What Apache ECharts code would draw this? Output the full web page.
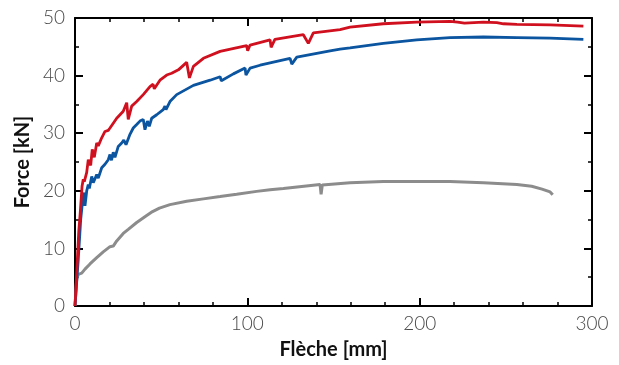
<!DOCTYPE html>
<html>
<head>
<meta charset="utf-8">
<script src="https://cdn.jsdelivr.net/npm/echarts@6/dist/echarts.min.js"></script>
<style>
  html, body { margin: 0; padding: 0; background: #fff; }
  #chart { width: 619px; height: 365px; }
</style>
</head>
<body>
<div id="chart"></div>
<script>
// Flèche [mm] / Force [kN] readings for each test
const redX = [0, 1.2, 2.2, 3, 4.1, 4.8, 5.4, 6.8, 7.7, 8.4, 9.1, 10, 10.6, 11.2, 12.6, 13.5, 15.5, 16.3, 17.4, 19.3, 20.3, 21.2, 24.2, 28, 30, 30.9, 32.9, 35.8, 39.6, 43.5, 45.3, 46, 49.3, 53.2, 56.1, 57, 60, 64.8, 66.4, 68.7, 74.5, 84.2, 99.6, 100.2, 101.6, 113.2, 113.8, 116, 132.5, 135.4, 138.3, 153.8, 159.6, 178.9, 198.3, 217.6, 222, 226, 237, 244.8, 248.6, 256.4, 275.7, 295];
const redY = [0, 7, 13, 16, 20.8, 22, 21.6, 23.2, 25.4, 25.6, 24.4, 27.2, 27.4, 25.8, 28.3, 27.8, 29.2, 28.9, 30.3, 30.5, 30.9, 31.2, 32.6, 33.8, 35.3, 32.4, 34.7, 35.5, 36.7, 38.1, 38.5, 37.7, 39.2, 40.1, 40.4, 40.2, 41, 42.3, 39.6, 41.6, 43, 44.2, 45.2, 44.3, 45.3, 46.2, 44.9, 46.3, 47.1, 45.6, 47.4, 48.0, 48.4, 49.0, 49.3, 49.4, 49.3, 49.1, 49.3, 49.2, 49.0, 48.9, 48.8, 48.6];

const blueX = [0, 1.9, 3.3, 4.5, 5.2, 5.8, 6.8, 7.7, 8.3, 9.7, 10.6, 12.6, 13.5, 15.5, 17.4, 19.3, 20.3, 21.2, 22.2, 23.2, 25.1, 27.1, 28.3, 29.6, 31.9, 33.8, 35.8, 37.7, 39.6, 40.6, 42, 43.1, 44.5, 47.4, 51.2, 52.2, 52.8, 55.1, 59, 68.7, 78.4, 84.2, 84.9, 91.9, 98.7, 99.2, 101.6, 107.4, 124.8, 125.8, 128.7, 148, 149, 153.8, 159.6, 178.9, 198.3, 217.6, 237, 256.4, 275.7, 295];
const blueY = [0, 8.1, 15, 18.5, 19.7, 17.4, 20, 21.1, 20.4, 22.5, 21.4, 22.8, 22.2, 24, 24.6, 25.4, 26.3, 25.3, 26.7, 25.8, 27.7, 28.3, 28.8, 28, 29.8, 30.9, 31.5, 32.1, 32.4, 30.6, 32.1, 31.2, 32.6, 33.2, 34.1, 34.7, 34.1, 35.5, 36.7, 38.3, 39.2, 39.8, 39.1, 40.3, 41.3, 40.1, 41.3, 41.8, 43, 42, 43.2, 44.3, 44.0, 44.6, 44.8, 45.6, 46.2, 46.6, 46.7, 46.6, 46.5, 46.3];

const grayX = [0, 1, 1.9, 3.9, 5.8, 8.7, 12.6, 16.4, 20.3, 22.2, 24.2, 28, 30.9, 35.8, 41.6, 45, 49, 55.1, 64.8, 74.5, 84.2, 93.8, 105.4, 113.2, 120.9, 142.2, 142.8, 143.5, 159.6, 178.9, 198.3, 217.6, 237, 256.4, 265, 271, 275.7, 277.2];
const grayY = [0, 4.7, 5.5, 5.7, 6.4, 7.3, 8.4, 9.4, 10.3, 10.4, 11.3, 12.6, 13.3, 14.5, 15.7, 16.4, 17.0, 17.6, 18.2, 18.6, 19, 19.4, 19.9, 20.2, 20.4, 21.1, 19.4, 21.0, 21.4, 21.6, 21.6, 21.6, 21.4, 21.1, 20.8, 20.3, 19.8, 19.3];

const zip = (xs, ys) => xs.map((x, i) => [x, ys[i]]);

const chart = echarts.init(document.getElementById('chart'));

const frameAxis = {
    axisLine: { show: true, onZero: false, lineStyle: { color: '#000', width: 2 } },
    axisTick: { show: true, inside: true, length: 8, lineStyle: { color: '#000', width: 2 } },
    minorTick: { show: true, length: 4, lineStyle: { color: '#000', width: 1.5 } },
    splitLine: { show: false },
    minorSplitLine: { show: false }
};
const labelStyle = { color: '#4a4a4a', fontFamily: 'Lato', fontWeight: 300, fontSize: 19 };
const nameStyle = { color: '#111', fontFamily: 'Lato', fontWeight: 'bold', fontSize: 20 };

const option = {
    animation: false,
    grid: { left: 75, right: 27, top: 18, bottom: 58 },
    xAxis: [
        Object.assign({}, frameAxis, {
            type: 'value', min: 0, max: 300, interval: 100,
            minorTick: Object.assign({}, frameAxis.minorTick, { splitNumber: 5 }),
            axisLabel: Object.assign({ margin: 8 }, labelStyle),
            name: 'Flèche [mm]', nameLocation: 'middle', nameGap: 34, nameTextStyle: nameStyle
        }),
        Object.assign({}, frameAxis, {
            type: 'value', position: 'top', min: 0, max: 300, interval: 100,
            minorTick: Object.assign({}, frameAxis.minorTick, { splitNumber: 5 }),
            axisLabel: { show: false }
        })
    ],
    yAxis: [
        Object.assign({}, frameAxis, {
            type: 'value', min: 0, max: 50, interval: 10,
            minorTick: Object.assign({}, frameAxis.minorTick, { splitNumber: 2 }),
            axisLabel: Object.assign({ margin: 10 }, labelStyle),
            name: 'Force [kN]', nameLocation: 'middle', nameGap: 40, nameTextStyle: nameStyle
        }),
        Object.assign({}, frameAxis, {
            type: 'value', position: 'right', min: 0, max: 50, interval: 10,
            minorTick: Object.assign({}, frameAxis.minorTick, { splitNumber: 2 }),
            axisLabel: { show: false }
        })
    ],
    series: [
        { type: 'line', data: zip(grayX, grayY), showSymbol: false, lineStyle: { color: '#8c8c8c', width: 3 } },
        { type: 'line', data: zip(blueX, blueY), showSymbol: false, lineStyle: { color: '#0a54a0', width: 2.8 } },
        { type: 'line', data: zip(redX, redY), showSymbol: false, lineStyle: { color: '#d0101e', width: 2.8 } }
    ]
};
chart.setOption(option);
</script>
</body>
</html>
